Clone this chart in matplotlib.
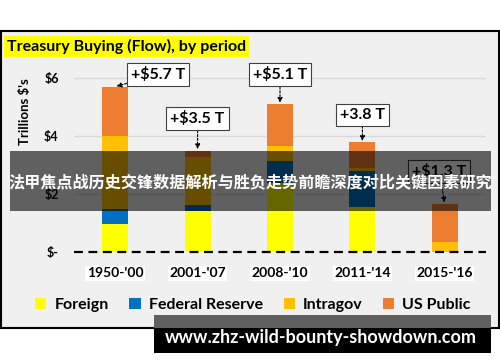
# Treasury buying by period - stacked bars with overlay banners
import matplotlib.pyplot as plt
import numpy as np
from matplotlib.patches import Rectangle, Patch

plt.rcParams['font.family'] = ['Lato', 'DejaVu Sans']
plt.rcParams['font.weight'] = 'bold'

# data (trillions $)
periods = ["1950-'00", "2001-'07", "2008-'10", "2011-'14", "2015-'16"]
foreign = [0.97, 1.41, 2.37, 1.56, 0.0]
fed = [0.52, 0.21, 0.78, 1.24, 0.0]
intragov = [2.52, 1.67, 0.52, 0.10, 0.36]
us_public = [1.69, 0.21, 1.43, 0.88, 1.30]
totals_text = ["+$5.7 T", "+$3.5 T", "+$5.1 T", "+3.8 T", "+$1.3 T"]
yticks = [0, 2, 4, 6]
ytick_labels = ["$-", "$2", "$4", "$6"]

series = [("Foreign", foreign, "#FFFF00"),
          ("Federal Reserve", fed, "#0070C0"),
          ("Intragov", intragov, "#FFC000"),
          ("US Public", us_public, "#ED7D31")]

W, H = 500, 362
fig = plt.figure(figsize=(W / 100, H / 100), dpi=100)

def fx(px):
    return px / W

def fy(py):
    return 1 - py / H

# chart frame
fig.add_artist(Rectangle((fx(1), fy(328)), fx(498), 297 / H, transform=fig.transFigure,
                         facecolor="#F0F0F0", edgecolor="black", linewidth=1.5, zorder=-2))

ax = fig.add_axes([fx(74), fy(252), fx(412), 192 / H])
ax.set_facecolor("none")
x = np.arange(len(periods))
bottom = np.zeros(len(periods))
for name, vals, col in series:
    ax.bar(x, vals, width=0.315, bottom=bottom, color=col, zorder=3)
    bottom += np.array(vals)

ax.set_xlim(-0.5, 4.5)
ax.set_ylim(0, 192 / 29)
ax.set_yticks(yticks)
ax.set_yticklabels(ytick_labels, fontsize=9, fontweight="bold")
ax.yaxis.grid(True, color="#D9D9D9", linewidth=1, zorder=0)
ax.axhline(0, color="black", linestyle=(0, (4, 2.5)), linewidth=1.6, zorder=4, clip_on=False)
ax.set_xticks(x)
ax.set_xticklabels(periods, fontsize=10, fontweight="bold")
for lbl in ax.get_xticklabels():
    lbl.set_bbox(dict(facecolor="white", edgecolor="none", pad=1))
ax.tick_params(axis="both", length=0)
ax.tick_params(axis="y", pad=11)
ax.tick_params(axis="x", pad=11)
for s in ax.spines.values():
    s.set_visible(False)

# total annotations
offsets = [(31, 9), (0, 23), (0, 21), (0, 20), (-4, 23)]
for i, txt in enumerate(totals_text):
    ax.annotate(txt, xy=(x[i], bottom[i]), xytext=offsets[i], textcoords="offset points",
                ha="center", va="center", fontsize=11.5, fontweight="bold", zorder=6,
                bbox=dict(boxstyle="square,pad=0.25", facecolor="white", edgecolor="#404040", linewidth=0.8),
                arrowprops=dict(arrowstyle="-|>", color="black", linestyle=(0, (2, 1.5)),
                                linewidth=0.8, mutation_scale=7, shrinkA=0, shrinkB=1))

fig.text(fx(25), fy(112), "Trillions $'s", rotation=90, ha="center", va="center",
         fontsize=9.5, fontweight="bold")

fig.text(fx(7), fy(46.5), "Treasury Buying (Flow), by period", ha="left", va="center",
         fontsize=11.5, fontweight="bold",
         bbox=dict(boxstyle="square,pad=0.2", facecolor="#FFFF00", edgecolor="none"))

handles = [Patch(facecolor=c, edgecolor="none") for _, _, c in series]
fig.legend(handles, [n for n, _, _ in series], loc="center", bbox_to_anchor=(fx(253), fy(305)),
           ncol=4, frameon=False, handlelength=0.7, handleheight=0.7,
           handletextpad=0.5, columnspacing=1.3, prop={"weight": "bold", "size": 11.5})

# overlay banner
fig.add_artist(Rectangle((fx(10), fy(211)), fx(481), 60 / H, transform=fig.transFigure,
                         facecolor="black", alpha=0.6, edgecolor="none", zorder=5))
fig.text(fx(250), fy(182), "法甲焦点战历史交锋数据解析与胜负走势前瞻深度对比关键因素研究",
         ha="center", va="center", color="white", fontsize=11.6, fontweight="bold",
         family=["Noto Sans CJK SC", "DejaVu Sans"], zorder=6)

# bottom banner
fig.add_artist(Rectangle((fx(154), fy(328)), fx(337), 13 / H, transform=fig.transFigure,
                         facecolor="#5F5F5F", edgecolor="none", zorder=5))
fig.add_artist(Rectangle((fx(154), fy(353)), fx(337), 25 / H, transform=fig.transFigure,
                         facecolor="black", edgecolor="none", zorder=5))
fig.text(fx(321), fy(338), "www.zhz-wild-bounty-showdown.com", ha="center", va="center",
         color="white", fontsize=13, fontweight="bold", zorder=6)

fig.savefig("out.png", dpi=100)
